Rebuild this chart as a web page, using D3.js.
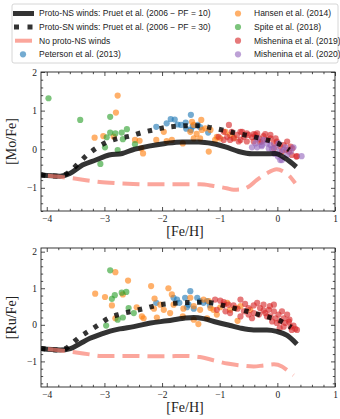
<!DOCTYPE html>
<html>
<head>
<meta charset="utf-8">
<script src="https://cdn.jsdelivr.net/npm/d3@7"></script>
<style>
  body { margin: 0; background: #fff; }
</style>
</head>
<body>
<div id="chart"></div>
<script>
// ---- model curves, [Mo/Fe] panel
const moNS10 = [[-4.1,-0.67],[-3.77,-0.70],[-3.6,-0.63],[-3.38,-0.41],[-3.15,-0.28],[-2.92,-0.15],[-2.69,-0.11],[-2.52,-0.02],[-2.23,0.08],[-1.94,0.15],[-1.65,0.19],[-1.36,0.19],[-1.13,0.15],[-0.90,0.06],[-0.67,-0.06],[-0.44,-0.12],[-0.21,-0.12],[-0.04,-0.11],[0.14,-0.24],[0.33,-0.46]];
const moNS30 = [[-4.1,-0.67],[-3.77,-0.70],[-3.66,-0.64],[-3.57,-0.54],[-3.42,-0.32],[-3.30,-0.15],[-3.13,0.04],[-2.95,0.19],[-2.76,0.28],[-2.55,0.34],[-2.35,0.43],[-2.15,0.50],[-1.95,0.56],[-1.54,0.61],[-1.34,0.61],[-1.16,0.56],[-0.96,0.50],[-0.76,0.43],[-0.56,0.37],[-0.35,0.30],[-0.15,0.23],[0.04,0.13],[0.21,-0.02]];
const moNoWind = [[-3.98,-0.69],[-3.57,-0.75],[-3.25,-0.82],[-3.08,-0.85],[-2.79,-0.88],[-2.50,-0.90],[-2.21,-0.91],[-1.92,-0.91],[-1.63,-0.91],[-1.34,-0.91],[-1.11,-0.95],[-0.88,-1.01],[-0.76,-1.05],[-0.62,-1.04],[-0.50,-0.97],[-0.36,-0.80],[-0.19,-0.63],[-0.01,-0.52],[0.11,-0.58],[0.22,-0.71],[0.31,-0.88]];

// ---- model curves, [Ru/Fe] panel
const ruNS10 = [[-4.1,-0.65],[-3.77,-0.69],[-3.59,-0.65],[-3.42,-0.51],[-3.25,-0.37],[-3.07,-0.26],[-2.90,-0.17],[-2.73,-0.11],[-2.49,-0.05],[-2.20,0.05],[-1.91,0.11],[-1.62,0.18],[-1.45,0.20],[-1.28,0.17],[-1.05,0.07],[-0.82,-0.02],[-0.64,-0.09],[-0.41,-0.14],[-0.18,-0.14],[-0.01,-0.18],[0.17,-0.29],[0.34,-0.53]];
const ruNS30 = [[-4.1,-0.65],[-3.77,-0.69],[-3.66,-0.64],[-3.56,-0.51],[-3.42,-0.32],[-3.28,-0.18],[-3.13,-0.03],[-2.93,0.18],[-2.73,0.29],[-2.52,0.37],[-2.32,0.44],[-2.12,0.52],[-1.92,0.57],[-1.71,0.60],[-1.51,0.61],[-1.34,0.62],[-1.13,0.60],[-0.92,0.52],[-0.72,0.44],[-0.53,0.37],[-0.32,0.28],[-0.13,0.20],[0.05,0.11],[0.24,-0.07]];
const ruNoWind = [[-3.98,-0.66],[-3.56,-0.74],[-3.25,-0.81],[-3.07,-0.85],[-2.78,-0.85],[-2.49,-0.85],[-2.20,-0.86],[-1.91,-0.86],[-1.62,-0.85],[-1.34,-0.88],[-1.11,-0.97],[-0.87,-1.06],[-0.64,-1.11],[-0.41,-1.14],[-0.24,-1.11],[-0.06,-1.08],[0.08,-1.14],[0.17,-1.24],[0.28,-1.38]];

// ---- observations, [Mo/Fe]
const moPeterson = [[-2.10,0.58],[-1.92,0.67],[-1.85,0.78],[-1.78,0.77],[-1.73,0.64],[-1.67,0.63],[-1.59,0.69],[-1.50,0.89],[-1.47,0.59],[-1.38,0.63],[-1.34,0.57],[-1.20,0.43],[-1.58,0.53],[-1.50,0.50]];
const moHansen = [[-2.77,1.39],[-2.80,0.95],[-3.17,0.30],[-3.02,0.34],[-2.84,0.33],[-2.47,0.24],[-2.39,0.22],[-2.33,-0.11],[-2.10,0.24],[-1.97,0.45],[-1.92,0.21],[-1.83,0.24],[-1.64,0.15],[-1.48,0.71],[-1.45,0.63],[-1.51,0.45],[-1.45,0.28],[-1.34,0.28],[-1.32,0.76],[-1.31,0.50],[-1.25,0.54],[-1.19,-0.06],[-1.16,0.50],[-1.08,0.24],[-0.99,0.28],[-0.90,0.45],[-0.82,0.37],[-2.36,0.02],[-1.40,0.40],[-0.75,0.30],[-1.05,0.32]];
const moSpite = [[-3.97,1.32],[-3.42,0.76],[-2.90,0.84],[-2.90,0.43],[-2.81,0.41],[-2.70,0.43],[-2.61,0.52],[-2.68,0.26],[-2.96,0.31],[-2.99,0.05],[-2.77,-0.02],[-3.07,-0.38],[-2.47,0.13]];
const moMish19 = [[-0.84,0.63],[-0.93,0.45],[-0.87,0.32],[-0.79,0.45],[-0.76,0.28],[-0.70,0.37],[-0.64,0.24],[-0.58,0.32],[-0.53,0.41],[-0.44,0.31],[-0.38,0.37],[-0.32,0.28],[-0.27,0.20],[-0.24,0.34],[-0.18,0.24],[-0.12,0.28],[-0.06,0.15],[-0.01,0.20],[0.05,0.07],[0.11,0.11],[0.16,-0.02],[0.20,-0.06],[0.25,-0.15],[0.33,-0.19],[-0.41,0.20],[-0.53,0.20],[-0.06,0.02],[0.08,-0.06],[0.23,0.07],[0.17,0.20],[-0.61,0.45],[-0.41,0.39],[-0.21,0.39],[-0.03,0.28],[-1.02,0.32],[-0.82,0.24],[-0.67,0.20],[-0.64,0.45],[-0.50,0.37],[-0.35,0.41],[-0.12,0.37],[0.26,0.02],[0.34,-0.18],[-0.93,0.24],[-0.30,0.19]];
const moMish20 = [[-0.35,0.05],[-0.24,0.24],[-0.18,0.15],[-0.12,0.11],[-0.09,0.0],[-0.03,0.05],[0.01,-0.19],[0.04,-0.06],[0.08,-0.28],[0.11,-0.02],[0.17,-0.15],[0.23,-0.06],[0.28,0.05],[0.42,-0.18],[-0.05,-0.12],[-0.15,0.02],[-0.27,0.08],[0.14,0.05],[-0.35,0.28],[-0.27,0.11],[0.02,0.15],[0.05,-0.28],[-0.38,0.15],[-0.44,0.05]];

// ---- observations, [Ru/Fe]
const ruPeterson = [[-2.10,0.60],[-1.80,0.74],[-1.74,0.69],[-1.70,0.60],[-1.60,0.74],[-1.54,0.55],[-1.51,0.92],[-1.39,0.74],[-1.34,0.65],[-1.28,0.60],[-1.22,0.65],[-1.17,0.53],[-1.45,0.44],[-1.57,0.48]];
const ruHansen = [[-3.16,0.85],[-2.99,0.76],[-2.81,1.44],[-2.59,1.21],[-2.87,0.53],[-2.68,0.83],[-2.81,0.18],[-2.44,0.48],[-2.35,0.23],[-2.32,0.18],[-2.19,1.06],[-2.13,0.72],[-2.09,0.20],[-2.03,0.55],[-1.97,0.41],[-1.89,1.0],[-1.83,0.83],[-1.86,0.32],[-1.80,0.55],[-1.64,0.23],[-1.63,0.44],[-1.51,0.74],[-1.45,0.51],[-1.37,0.02],[-1.34,0.41],[-1.28,0.69],[-1.22,0.18],[-1.19,0.65],[-1.16,0.46],[-1.11,0.41],[-1.05,0.28],[-0.99,0.48],[-0.87,0.60],[-0.82,0.41],[-0.73,0.46],[-0.69,0.11],[-0.64,0.51],[-0.47,0.41],[-1.45,0.14],[-2.14,0.44]];
const ruSpite = [[-2.90,1.49],[-2.87,0.71],[-2.82,0.81],[-2.70,0.88],[-2.62,0.90],[-2.58,0.46],[-2.68,0.20],[-2.77,0.14],[-2.97,-0.02],[-2.49,0.32]];
const ruMish19 = [[-1.08,0.69],[-0.99,0.66],[-0.93,0.55],[-0.76,0.53],[-0.64,0.69],[-0.56,0.57],[-0.50,0.46],[-0.41,0.53],[-0.35,0.60],[-0.30,0.46],[-0.24,0.55],[-0.21,0.32],[-0.15,0.41],[-0.12,0.23],[-0.06,0.37],[-0.03,0.18],[0.02,0.28],[0.05,0.09],[0.11,0.18],[0.14,0.05],[0.20,0.09],[0.23,-0.05],[0.28,-0.02],[0.31,-0.11],[0.34,-0.14],[-0.32,0.28],[-0.41,0.32],[-0.50,0.28],[-0.09,0.09],[-0.01,0.05],[-0.18,0.23],[-0.24,0.39],[0.17,0.28],[0.08,0.37],[-0.06,0.55],[-0.13,0.51],[-0.69,0.44],[-0.82,0.32],[-0.90,0.37],[-0.44,0.18],[-0.58,0.37],[-0.64,0.23],[-1.05,0.41],[0.21,0.14],[0.25,-0.14],[0.04,-0.09],[0.11,-0.05],[-0.93,0.62],[-0.85,0.55]];

const xTicks = [-4, -3, -2, -1, 0, 1];
const yTicks = [-1, 0, 1, 2];

const colors = { peterson: "#1f77b4", hansen: "#ff7f0e", spite: "#2ca02c", mish19: "#d62728", mish20: "#9467bd" };

const W = 340, H = 419;
const plotLeft = 41, plotRight = 335, plotH = 139;

const svg = d3.select("#chart").append("svg")
    .attr("width", W)
    .attr("height", H);

// one panel: frame, scatter, curves, ticks, labels
function drawPanel(top, yDomain, yLabel, curves, sets, id) {
    const x = d3.scaleLinear().domain([-4.1, 1]).range([plotLeft, plotRight]);
    const y = d3.scaleLinear().domain(yDomain).range([top + plotH, top]);

    svg.append("clipPath").attr("id", id)
        .append("rect")
        .attr("x", plotLeft).attr("y", top)
        .attr("width", plotRight - plotLeft).attr("height", plotH);

    const g = svg.append("g").attr("clip-path", "url(#" + id + ")");

    // scatter first (sits under the lines)
    sets.forEach(s => {
        g.append("g").selectAll("circle")
            .data(s.data)
            .join("circle")
            .attr("cx", d => x(d[0]))
            .attr("cy", d => y(d[1]))
            .attr("r", 3.1)
            .attr("fill", s.color)
            .attr("fill-opacity", 0.62);
    });

    const line = d3.line()
        .x(d => x(d[0]))
        .y(d => y(d[1]))
        .curve(d3.curveMonotoneX);

    // solid PF = 10
    g.append("path").datum(curves.ns10)
        .attr("d", line)
        .attr("fill", "none")
        .attr("stroke", "#000")
        .attr("stroke-opacity", 0.8)
        .attr("stroke-width", 5);

    // dotted PF = 30
    g.append("path").datum(curves.ns30)
        .attr("d", line)
        .attr("fill", "none")
        .attr("stroke", "#000")
        .attr("stroke-opacity", 0.8)
        .attr("stroke-width", 5)
        .attr("stroke-dasharray", "4.5,7.5");

    // no winds, dashed salmon
    g.append("path").datum(curves.none)
        .attr("d", line)
        .attr("fill", "none")
        .attr("stroke", "#fa8072")
        .attr("stroke-opacity", 0.7)
        .attr("stroke-width", 4)
        .attr("stroke-dasharray", "17,8");

    // frame
    svg.append("rect")
        .attr("x", plotLeft).attr("y", top)
        .attr("width", plotRight - plotLeft).attr("height", plotH)
        .attr("fill", "none")
        .attr("stroke", "#222")
        .attr("stroke-width", 0.9);

    const xMinor = d3.range(-4.0, 1.001, 0.2).filter(v => Math.abs(v - Math.round(v)) > 1e-6);
    const yMinor = d3.range(Math.ceil(yDomain[0] * 5) / 5, yDomain[1] + 0.001, 0.2)
        .filter(v => Math.abs(v - Math.round(v)) > 1e-6);

    const fmt = d3.format("d");

    function addAxis(axis, transform) {
        const a = svg.append("g")
            .attr("transform", transform)
            .call(axis);
        a.select(".domain").remove();
        a.selectAll("line").attr("stroke", "#222").attr("stroke-width", 0.8);
        a.selectAll("text")
            .attr("font-family", "'Liberation Serif', 'DejaVu Serif', serif")
            .attr("font-size", 9.5)
            .attr("fill", "#222");
        return a;
    }

    // bottom + top
    addAxis(d3.axisBottom(x).tickValues(xTicks).tickSize(-4).tickPadding(4).tickFormat(fmt), `translate(0,${top + plotH})`);
    addAxis(d3.axisBottom(x).tickValues(xMinor).tickSize(-2.2).tickFormat(""), `translate(0,${top + plotH})`);
    addAxis(d3.axisTop(x).tickValues(xTicks).tickSize(-4).tickFormat(""), `translate(0,${top})`);
    addAxis(d3.axisTop(x).tickValues(xMinor).tickSize(-2.2).tickFormat(""), `translate(0,${top})`);
    // left + right
    addAxis(d3.axisLeft(y).tickValues(yTicks).tickSize(-4).tickPadding(4).tickFormat(fmt), `translate(${plotLeft},0)`);
    addAxis(d3.axisLeft(y).tickValues(yMinor).tickSize(-2.2).tickFormat(""), `translate(${plotLeft},0)`);
    addAxis(d3.axisRight(y).tickValues(yTicks).tickSize(-4).tickFormat(""), `translate(${plotRight},0)`);
    addAxis(d3.axisRight(y).tickValues(yMinor).tickSize(-2.2).tickFormat(""), `translate(${plotRight},0)`);

    // axis titles
    svg.append("text")
        .attr("x", (plotLeft + plotRight) / 2 - 3)
        .attr("y", top + plotH + 25)
        .attr("text-anchor", "middle")
        .attr("font-family", "'Liberation Serif', 'DejaVu Serif', serif")
        .attr("font-size", 14)
        .attr("fill", "#222")
        .text("[Fe/H]");

    svg.append("text")
        .attr("transform", `translate(16,${top + plotH / 2}) rotate(-90)`)
        .attr("text-anchor", "middle")
        .attr("font-family", "'Liberation Serif', 'DejaVu Serif', serif")
        .attr("font-size", 14)
        .attr("fill", "#222")
        .text(yLabel);
}

drawPanel(72, [-1.6, 2.0], "[Mo/Fe]",
    { ns10: moNS10, ns30: moNS30, none: moNoWind },
    [
        { data: moPeterson, color: colors.peterson },
        { data: moHansen, color: colors.hansen },
        { data: moSpite, color: colors.spite },
        { data: moMish19, color: colors.mish19 },
        { data: moMish20, color: colors.mish20 }
    ], "clipTop");

drawPanel(248, [-1.7, 2.1], "[Ru/Fe]",
    { ns10: ruNS10, ns30: ruNS30, none: ruNoWind },
    [
        { data: ruPeterson, color: colors.peterson },
        { data: ruHansen, color: colors.hansen },
        { data: ruSpite, color: colors.spite },
        { data: ruMish19, color: colors.mish19 }
    ], "clipBottom");

// ---- legend
const legend = svg.append("g");
legend.append("rect")
    .attr("x", 12).attr("y", 4)
    .attr("width", 326).attr("height", 59)
    .attr("rx", 2)
    .attr("fill", "#fff")
    .attr("fill-opacity", 0.8)
    .attr("stroke", "#ccc")
    .attr("stroke-width", 0.8);

const rowY = [13.5, 27, 40.7, 54.3];
const legendFont = "'Liberation Sans', 'DejaVu Sans', sans-serif";

function legendText(xPos, yPos, label) {
    legend.append("text")
        .attr("x", xPos).attr("y", yPos)
        .attr("dy", "0.35em")
        .attr("font-family", legendFont)
        .attr("font-size", 8.5)
        .attr("fill", "#222")
        .text(label);
}

legend.append("line")
    .attr("x1", 13).attr("x2", 34).attr("y1", rowY[0]).attr("y2", rowY[0])
    .attr("stroke", "#000").attr("stroke-opacity", 0.8).attr("stroke-width", 5);
legendText(39, rowY[0], "Proto-NS winds: Pruet et al. (2006 \u2212 PF = 10)");

legend.append("line")
    .attr("x1", 14).attr("x2", 34).attr("y1", rowY[1]).attr("y2", rowY[1])
    .attr("stroke", "#000").attr("stroke-opacity", 0.8).attr("stroke-width", 5)
    .attr("stroke-dasharray", "5,8.5");
legendText(39, rowY[1], "Proto-SN winds: Pruet et al. (2006 \u2212 PF = 30)");

legend.append("line")
    .attr("x1", 15).attr("x2", 32).attr("y1", rowY[2]).attr("y2", rowY[2])
    .attr("stroke", "#fa8072").attr("stroke-opacity", 0.7).attr("stroke-width", 4);
legendText(39, rowY[2], "No proto-NS winds");

legend.append("circle")
    .attr("cx", 23).attr("cy", rowY[3]).attr("r", 3.1)
    .attr("fill", colors.peterson).attr("fill-opacity", 0.62);
legendText(39, rowY[3], "Peterson et al. (2013)");

const col2 = [
    ["Hansen et al. (2014)", colors.hansen],
    ["Spite et al. (2018)", colors.spite],
    ["Mishenina et al. (2019)", colors.mish19],
    ["Mishenina et al. (2020)", colors.mish20]
];
col2.forEach((d, i) => {
    legend.append("circle")
        .attr("cx", 238).attr("cy", rowY[i]).attr("r", 3.1)
        .attr("fill", d[1]).attr("fill-opacity", 0.62);
    legendText(254, rowY[i], d[0]);
});
</script>
</body>
</html>
